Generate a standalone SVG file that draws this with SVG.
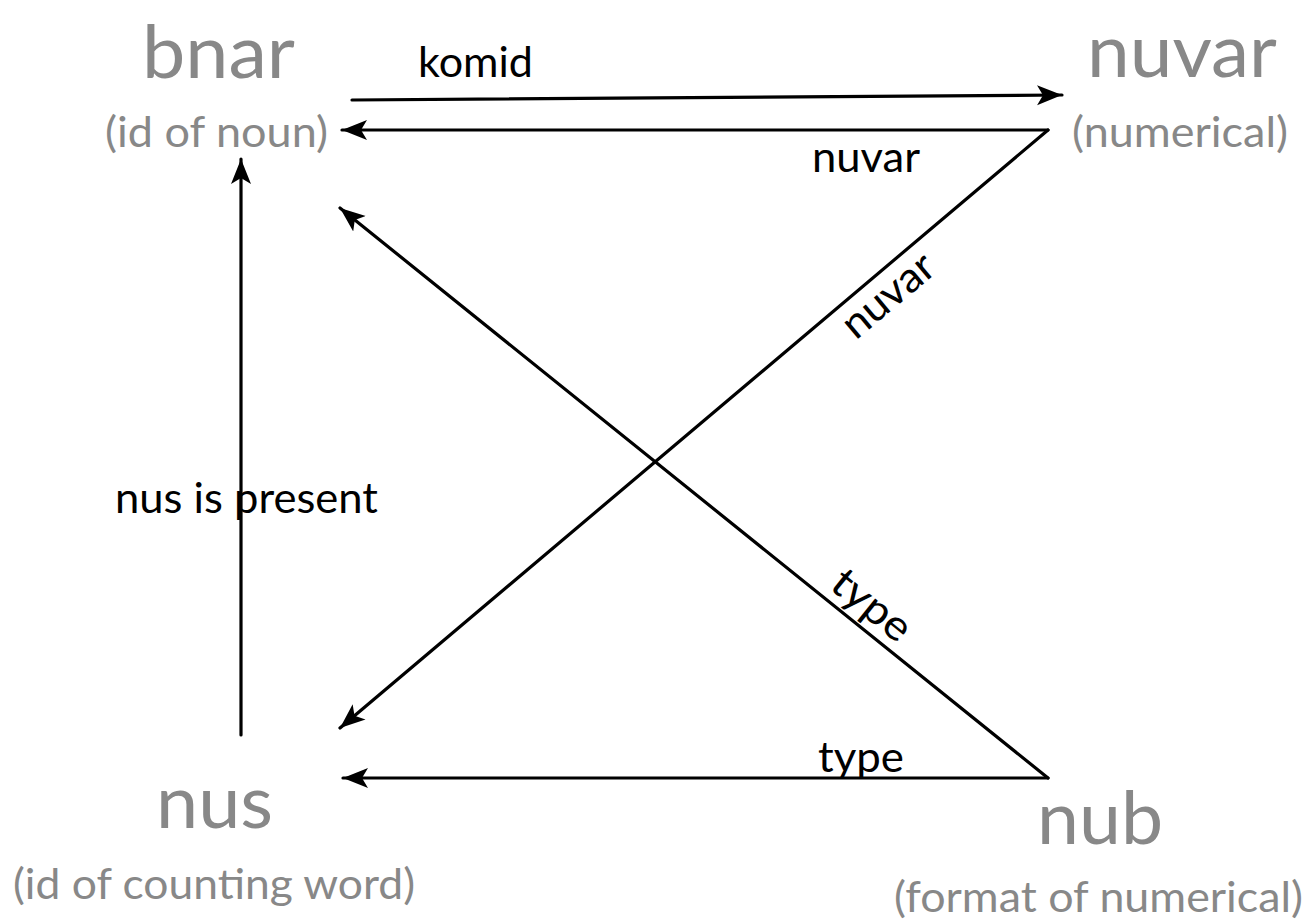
<svg xmlns="http://www.w3.org/2000/svg" width="1311" height="923" viewBox="0 0 1311 923">
<style>
.big{font-family:Lato,"Open Sans","Liberation Sans",sans-serif;font-size:74px;fill:#888888}
.sub{font-family:Lato,"Open Sans","Liberation Sans",sans-serif;font-size:43px;fill:#888888}
.lbl{font-family:Lato,"Open Sans","Liberation Sans",sans-serif;font-size:42px;fill:#000000}
.con{stroke:#000;stroke-width:3.2;fill:none;stroke-linecap:round}
</style>
<defs>
<marker id="ah" markerUnits="userSpaceOnUse" markerWidth="28" markerHeight="22" refX="25" refY="10" orient="auto">
<path d="M0,0 L25,10 L0,20 L6,10 z" fill="#000"/>
</marker>
</defs>
<rect width="1311" height="923" fill="#fff"/>
<g id="bnar">
<text class="big" x="142" y="78" textLength="153" lengthAdjust="spacingAndGlyphs">bnar</text>
<text class="sub" x="105" y="147" textLength="223" lengthAdjust="spacingAndGlyphs">(id of noun)</text>
</g>
<g id="nuvar">
<text class="big" x="1087" y="77" textLength="190" lengthAdjust="spacingAndGlyphs">nuvar</text>
<text class="sub" x="1072" y="147" textLength="216" lengthAdjust="spacingAndGlyphs">(numerical)</text>
</g>
<g id="nus">
<text class="big" x="156" y="828" textLength="117" lengthAdjust="spacingAndGlyphs">nus</text>
<text class="sub" x="13" y="899" textLength="402" lengthAdjust="spacingAndGlyphs">(id of counting word)</text>
</g>
<g id="nub">
<text class="big" x="1037" y="844" textLength="126" lengthAdjust="spacingAndGlyphs">nub</text>
<text class="sub" x="894" y="912" textLength="409" lengthAdjust="spacingAndGlyphs">(format of numerical)</text>
</g>
<g id="connectors">
<line class="con" x1="352" y1="100" x2="1062" y2="95" marker-end="url(#ah)"/>
<line class="con" x1="1048" y1="130" x2="342" y2="130" marker-end="url(#ah)"/>
<line class="con" x1="1048" y1="130" x2="340" y2="728" marker-end="url(#ah)"/>
<line class="con" x1="1048" y1="778" x2="340" y2="208" marker-end="url(#ah)"/>
<line class="con" x1="1048" y1="778" x2="343" y2="778" marker-end="url(#ah)"/>
<line class="con" x1="241" y1="735" x2="241" y2="159" marker-end="url(#ah)"/>
<text class="lbl" x="418" y="77" textLength="115" lengthAdjust="spacingAndGlyphs">komid</text>
<text class="lbl" x="812" y="172" textLength="108" lengthAdjust="spacingAndGlyphs">nuvar</text>
<text class="lbl" x="897" y="306" text-anchor="middle" transform="rotate(-40 897 306)" textLength="108" lengthAdjust="spacingAndGlyphs">nuvar</text>
<text class="lbl" x="863" y="616" text-anchor="middle" transform="rotate(39 863 616)" textLength="90" lengthAdjust="spacingAndGlyphs">type</text>
<text class="lbl" x="818" y="772" textLength="86" lengthAdjust="spacingAndGlyphs">type</text>
<text class="lbl" x="115" y="513" textLength="263" lengthAdjust="spacingAndGlyphs">nus is present</text>
</g>
</svg>
